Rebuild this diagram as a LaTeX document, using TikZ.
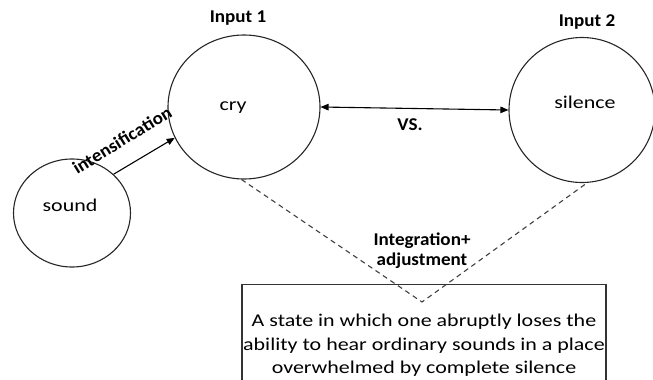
\documentclass[tikz,border=0pt]{standalone}
\usepackage{fontspec}
\setmainfont{Carlito}[FakeStretch=1.22,BoldFeatures={FakeStretch=1.06}]
\usetikzlibrary{shapes.geometric,arrows.meta}
\begin{document}
\begin{tikzpicture}[x=1pt,y=-1pt,
  ell/.style={ellipse,draw=black!85,line width=1.1pt,inner sep=0pt},
  txt/.style={font=\fontsize{18}{23.5}\selectfont,inner sep=0pt},
  btxt/.style={font=\fontsize{18}{20}\selectfont\bfseries,inner sep=0pt,align=center},
  arr/.style={line width=1.1pt,-{Triangle[length=8pt,width=6.5pt]}},
  darr/.style={line width=1.1pt,{Triangle[length=8pt,width=6.5pt]}-{Triangle[length=8pt,width=6.5pt]}},
  dsh/.style={line width=1.1pt,draw=black!75,dash pattern=on 5pt off 4pt},
  boxst/.style={draw=black!80,line width=1.2pt,minimum width=364pt,minimum height=122pt,anchor=north,inner sep=0pt}]
\useasboundingbox (0,0) rectangle (653,380);
% circles
\node[ell,minimum width=152pt,minimum height=144pt] (cry) at (244,107) {};
\node[ell,minimum width=146pt,minimum height=145pt] (sil) at (582,110) {};
\node[ell,minimum width=117pt,minimum height=108pt] (snd) at (72,213) {};
% circle texts
\node[txt] (crytxt) at (233,108) {cry};
\node[txt] (siltxt) at (585,102) {silence};
\node[txt] (sndtxt) at (70,205) {sound};
% titles
\node[btxt] (in1) at (238,18) {Input 1};
\node[btxt] (in2) at (587,22) {Input 2};
% connectors
\draw[arr] (snd.43) -- (cry.204);
\node[btxt,rotate=31.7] (intens) at (122,140) {intensification};
\draw[darr] (cry.east) -- (sil.west);
\node[btxt] (vs) at (410,125) {VS.};
% box
\node[boxst,txt,align=center] (box) at (424,284) {A state in which one abruptly loses the\\ability to hear ordinary sounds in a place\\overwhelmed by complete silence};
\coordinate (apex) at (422,302);
\draw[dsh] (cry.268) -- (apex) -- (sil.274);
\node[btxt] (integ) at (422,251) {Integration+\\adjustment};
\end{tikzpicture}
\end{document}
